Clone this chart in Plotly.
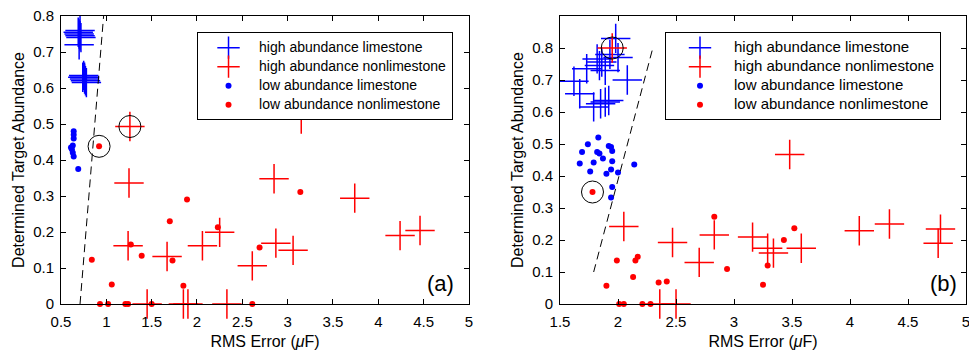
import plotly.graph_objects as go

# ---------------- Panel (a) data ----------------
a_hl_x = [0.70, 0.71, 0.69, 0.72, 0.70, 0.71, 0.74, 0.76, 0.75, 0.77, 0.78, 0.76]
a_hl_y = [0.75, 0.745, 0.755, 0.74, 0.72, 0.76, 0.63, 0.625, 0.635, 0.62, 0.615, 0.63]
a_hn_x = [1.26, 1.25, 1.24, 1.45, 1.67, 1.85, 1.90, 2.06, 2.25, 2.33, 2.61, 2.85, 2.87, 3.06, 3.15, 3.74, 4.24, 4.46]
a_hn_y = [0.493, 0.336, 0.162, 0.0, 0.132, 0.0, 0.0, 0.162, 0.199, 0.0, 0.106, 0.348, 0.169, 0.149, 0.514, 0.294, 0.19, 0.204]
a_ll_x = [0.64, 0.64, 0.64, 0.63, 0.61, 0.62, 0.63, 0.64, 0.69]
a_ll_y = [0.48, 0.47, 0.46, 0.44, 0.435, 0.43, 0.42, 0.41, 0.375]
a_ln_x = [0.92, 0.84, 1.06, 0.93, 1.02, 1.21, 1.24, 1.27, 1.39, 1.50, 1.70, 1.73, 1.89, 1.85, 2.23, 2.61, 2.69, 3.14]
a_ln_y = [0.438, 0.123, 0.054, 0.0, 0.0, 0.0, 0.0, 0.165, 0.134, 0.0, 0.23, 0.121, 0.29, 0.051, 0.213, 0.0, 0.157, 0.311]
a_line_x = [0.71, 0.97]
a_line_y = [0.0, 0.8]
a_circ_x = [1.26, 0.92]
a_circ_y = [0.493, 0.438]

# ---------------- Panel (b) data ----------------
b_hl_x = [1.98, 1.82, 2.00, 1.73, 1.86, 1.89, 1.93, 2.08, 1.62, 1.67, 1.79, 1.85, 1.89, 1.92, 1.84]
b_hl_y = [0.83, 0.766, 0.77, 0.735, 0.756, 0.73, 0.78, 0.70, 0.696, 0.657, 0.616, 0.626, 0.631, 0.636, 0.745]
b_hn_x = [1.95, 2.05, 2.36, 2.50, 2.47, 2.70, 2.83, 3.16, 3.29, 3.34, 3.58, 3.48, 4.08, 4.34, 4.78, 4.76]
b_hn_y = [0.80, 0.242, 0.0, 0.0, 0.192, 0.13, 0.216, 0.209, 0.174, 0.159, 0.174, 0.467, 0.229, 0.25, 0.234, 0.19]
b_ll_x = [1.83, 1.74, 1.92, 1.94, 1.69, 1.82, 1.84, 1.95, 1.87, 1.67, 1.79, 1.95, 2.14, 1.76, 1.90, 1.94, 2.00, 1.95, 1.94]
b_ll_y = [0.52, 0.499, 0.494, 0.491, 0.475, 0.475, 0.47, 0.478, 0.455, 0.439, 0.442, 0.446, 0.436, 0.414, 0.407, 0.42, 0.411, 0.366, 0.333]
b_ln_x = [1.78, 1.99, 2.15, 2.17, 2.13, 1.90, 2.35, 2.42, 2.83, 2.94, 2.01, 2.05, 2.21, 2.28, 3.25, 3.29, 3.43, 3.52]
b_ln_y = [0.35, 0.136, 0.136, 0.148, 0.084, 0.057, 0.067, 0.07, 0.273, 0.109, 0.0, 0.0, 0.0, 0.0, 0.06, 0.12, 0.2, 0.237]
b_line_x = [1.79, 2.30]
b_line_y = [0.1, 0.8]
b_circ_x = [1.95, 1.78]
b_circ_y = [0.80, 0.35]

names = ["high abundance limestone", "high abundance nonlimestone",
         "low abundance limestone", "low abundance nonlimestone"]
x_ticks_a = [0.5, 1, 1.5, 2, 2.5, 3, 3.5, 4, 4.5, 5]
x_ticks_b = [1.5, 2, 2.5, 3, 3.5, 4, 4.5, 5]
y_ticks = [0, 0.1, 0.2, 0.3, 0.4, 0.5, 0.6, 0.7, 0.8]

BLUE = "rgb(0,0,255)"
RED = "rgb(255,0,0)"
FONT = "Liberation Sans, Arial, sans-serif"

fig = go.Figure()


def add_panel(xa, ya, leg, fs, hl, hn, ll, ln, line, circ):
    lab = ["<span style='font-size:%dpx'>%s</span>" % (fs, n) for n in names]
    cross = dict(symbol="cross-thin-open", size=21, line=dict(width=1.5))
    fig.add_trace(go.Scatter(x=hl[0], y=hl[1], mode="markers", name=lab[0],
                             marker=dict(color=BLUE, **cross),
                             xaxis=xa, yaxis=ya, legend=leg, cliponaxis=False))
    fig.add_trace(go.Scatter(x=hn[0], y=hn[1], mode="markers", name=lab[1],
                             marker=dict(color=RED, **cross),
                             xaxis=xa, yaxis=ya, legend=leg, cliponaxis=False))
    fig.add_trace(go.Scatter(x=ll[0], y=ll[1], mode="markers", name=lab[2],
                             marker=dict(color=BLUE, symbol="circle", size=6),
                             xaxis=xa, yaxis=ya, legend=leg, cliponaxis=False))
    fig.add_trace(go.Scatter(x=ln[0], y=ln[1], mode="markers", name=lab[3],
                             marker=dict(color=RED, symbol="circle", size=6),
                             xaxis=xa, yaxis=ya, legend=leg, cliponaxis=False))
    fig.add_trace(go.Scatter(x=line[0], y=line[1], mode="lines", showlegend=False,
                             line=dict(color="black", width=1, dash="8px,5px"),
                             xaxis=xa, yaxis=ya))
    fig.add_trace(go.Scatter(x=circ[0], y=circ[1], mode="markers", showlegend=False,
                             marker=dict(symbol="circle-open", size=22, color="black",
                                         line=dict(width=1, color="black")),
                             xaxis=xa, yaxis=ya, cliponaxis=False))


add_panel("x", "y", "legend", 14, (a_hl_x, a_hl_y), (a_hn_x, a_hn_y), (a_ll_x, a_ll_y),
          (a_ln_x, a_ln_y), (a_line_x, a_line_y), (a_circ_x, a_circ_y))
add_panel("x2", "y2", "legend2", 15, (b_hl_x, b_hl_y), (b_hn_x, b_hn_y), (b_ll_x, b_ll_y),
          (b_ln_x, b_ln_y), (b_line_x, b_line_y), (b_circ_x, b_circ_y))

axis_common = dict(showline=True, linecolor="black", linewidth=1, mirror="ticks",
                   ticks="inside", ticklen=5, tickcolor="black", showgrid=False,
                   zeroline=False, automargin=False, ticklabeloverflow="allow",
                   tickfont=dict(size=15, color="black", family=FONT))
title_font = dict(size=16, color="black", family=FONT)


def tick_text(v):
    return [("%g" % t) for t in v]


xtitle = "RMS Error (<i>μ</i>F)"
ytitle = "Determined Target Abundance"

fig.update_layout(
    width=969, height=354,
    margin=dict(l=61, r=3, t=16, b=50),
    plot_bgcolor="white", paper_bgcolor="white",
    font=dict(family=FONT, color="black"),
    xaxis=dict(domain=[0, 0.4508], range=[0.5, 5], tickvals=x_ticks_a, ticktext=tick_text(x_ticks_a),
               ticklabelstandoff=4,
               title=dict(text=xtitle, font=title_font, standoff=6), anchor="y", **axis_common),
    yaxis=dict(domain=[0, 1], range=[0, 0.8], tickvals=y_ticks, ticktext=tick_text(y_ticks),
               ticklabelstandoff=3,
               title=dict(text=ytitle, font=title_font, standoff=4), anchor="x", **axis_common),
    xaxis2=dict(domain=[0.5514, 1], range=[1.5, 5], tickvals=x_ticks_b, ticktext=tick_text(x_ticks_b),
                ticklabelstandoff=4,
                title=dict(text=xtitle, font=title_font, standoff=6), anchor="y2", **axis_common),
    yaxis2=dict(domain=[0, 1], range=[0, 0.9], tickvals=y_ticks, ticktext=tick_text(y_ticks),
                ticklabelstandoff=3,
                title=dict(text=ytitle, font=title_font, standoff=4), anchor="x2", **axis_common),
    legend=dict(x=0.1503, y=0.944, xanchor="left", yanchor="top", bgcolor="white",
                bordercolor="black", borderwidth=1, itemwidth=51,
                font=dict(size=11.5, family=FONT, color="black"), tracegroupgap=0),
    legend2=dict(x=0.6674, y=0.944, xanchor="left", yanchor="top", bgcolor="white",
                 bordercolor="black", borderwidth=1, itemwidth=58,
                 font=dict(size=11.5, family=FONT, color="black"), tracegroupgap=0),
    annotations=[
        dict(text="(a)", x=4.69, y=0.058, xref="x", yref="y", showarrow=False,
             font=dict(size=22, family=FONT, color="black")),
        dict(text="(b)", x=4.806, y=0.065, xref="x2", yref="y2", showarrow=False,
             font=dict(size=22, family=FONT, color="black")),
    ],
)

fig.write_html("out.html", config={"displayModeBar": False},
               post_script="document.body.style.margin='0';")
